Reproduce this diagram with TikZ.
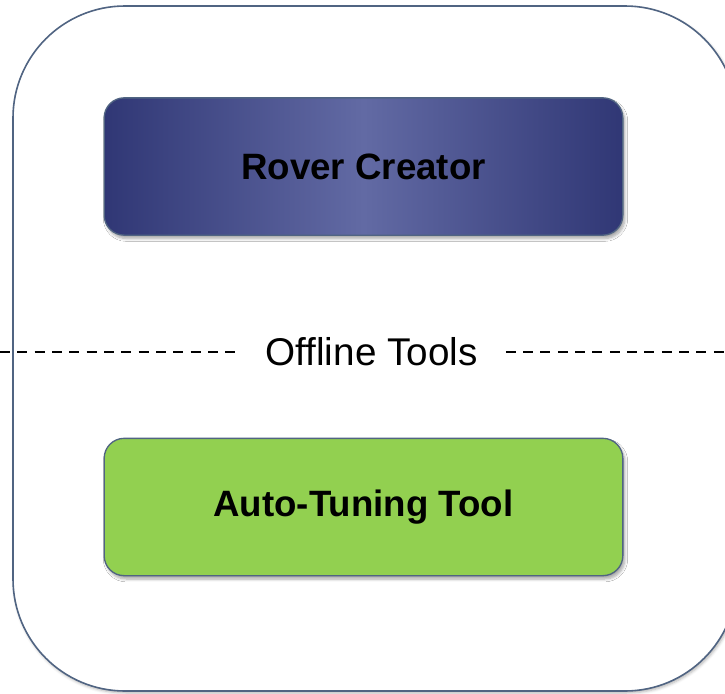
\documentclass[tikz,border=0pt]{standalone}
\usepackage{fontspec}
\setmainfont{Liberation Sans}
\usetikzlibrary{shadows.blur}
\definecolor{frameblue}{RGB}{80,100,130}
\definecolor{navyedge}{RGB}{48,55,117}
\definecolor{navymid}{RGB}{98,106,164}
\definecolor{toolgreen}{RGB}{146,208,80}
\tikzset{
  toolbox/.style={draw=frameblue, line width=1pt, rounded corners=15pt,
    minimum width=389pt, minimum height=103pt,
    blur shadow={shadow xshift=1.5pt, shadow yshift=-2.5pt, shadow blur steps=6, shadow opacity=35},
    font=\fontsize{27.5pt}{33pt}\selectfont\bfseries},
  sepline/.style={dash pattern=on 7.5pt off 5.5pt, line width=0.8pt}
}
\begin{document}
\begin{tikzpicture}[x=0.75pt,y=0.75pt,yscale=-1,xscale=1]
\useasboundingbox (0,0) rectangle (725,693);
\clip (0,0) rectangle (725,693);

%Outer frame
\draw [frameblue, fill=white, line width=1.2pt, rounded corners=84pt,
  blur shadow={shadow xshift=1pt, shadow yshift=-1.5pt, shadow blur steps=4, shadow opacity=30}]
  (13,6) rectangle (737,691);

%Rover Creator box
\node [toolbox, left color=navyedge, right color=navyedge, middle color=navymid] (rover) at (363.5,166.5) {Rover Creator};
%Auto-Tuning box
\node [toolbox, fill=toolgreen] (autotune) at (363.5,507) {Auto-Tuning Tool};

% Separator
\node [inner xsep=21pt, inner ysep=2pt, font=\fontsize{29pt}{34pt}\selectfont] (offline) at (371.5,352) {Offline Tools};
\coordinate (sepL) at (0,352);
\coordinate (sepR) at (725,352);
\draw [sepline] (sepL) -- (offline.west);
\draw [sepline] (offline.east) -- (sepR);

\end{tikzpicture}
\end{document}
